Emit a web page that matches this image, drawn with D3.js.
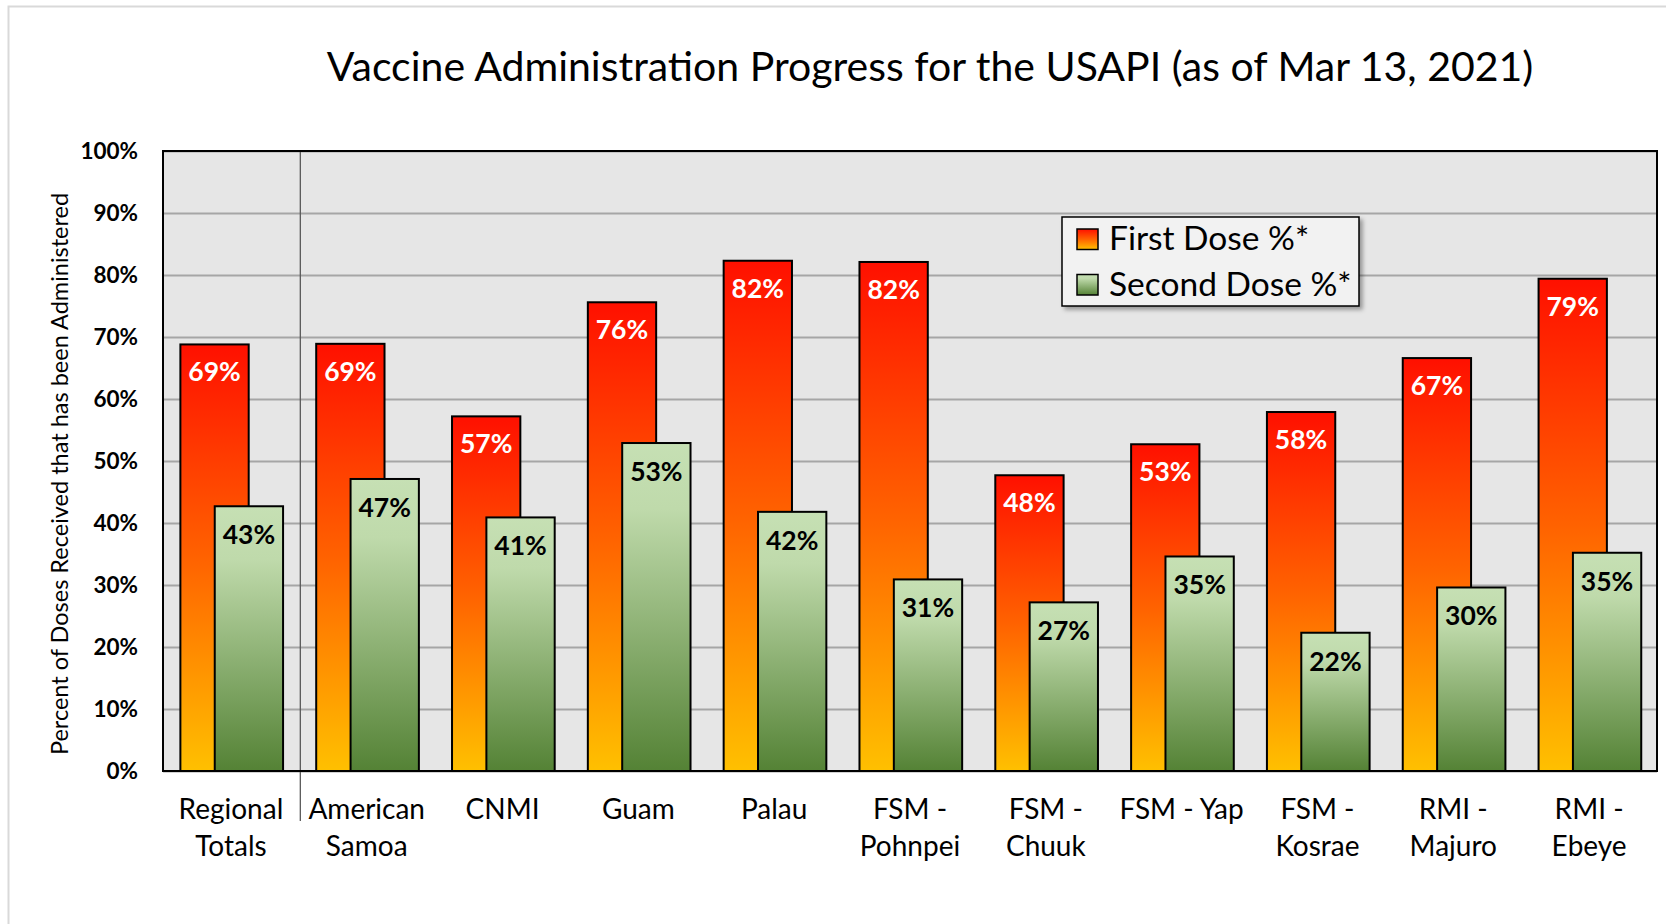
<!DOCTYPE html>
<html>
<head>
<meta charset="utf-8">
<script src="https://cdn.jsdelivr.net/npm/d3@7"></script>
<style>
  body { margin: 0; background: #fff; }
  svg { display: block; font-family: Lato, "Open Sans", sans-serif; }
</style>
</head>
<body>
<div id="chart-area"></div>
<script>
const categories = ["Regional Totals", "American Samoa", "CNMI", "Guam", "Palau", "FSM - Pohnpei",
    "FSM - Chuuk", "FSM - Yap", "FSM - Kosrae", "RMI - Majuro", "RMI - Ebeye"];
const categoryLines = [["Regional", "Totals"], ["American", "Samoa"], ["CNMI"], ["Guam"], ["Palau"],
    ["FSM -", "Pohnpei"], ["FSM -", "Chuuk"], ["FSM - Yap"], ["FSM -", "Kosrae"], ["RMI -", "Majuro"], ["RMI -", "Ebeye"]];
const firstDose = [0.688, 0.689, 0.572, 0.756, 0.823, 0.821, 0.477, 0.527, 0.579, 0.666, 0.794];
const secondDose = [0.427, 0.471, 0.409, 0.529, 0.418, 0.309, 0.272, 0.346, 0.223, 0.296, 0.352];
const yTicks = [0, 0.1, 0.2, 0.3, 0.4, 0.5, 0.6, 0.7, 0.8, 0.9, 1.0];
const seriesNames = ["First Dose %*", "Second Dose %*"];

const W = 1666, H = 924;
const margins = { top: 151, right: 9, bottom: 153, left: 163 },
    chartWidth = W - margins.left - margins.right,
    chartHeight = H - margins.top - margins.bottom;

const svgRoot = d3.select("#chart-area")
    .append("svg")
    .attr("width", W)
    .attr("height", H);

// outer frame
svgRoot.append("rect")
    .attr("x", 8.5).attr("y", 6.5)
    .attr("width", W + 10).attr("height", H + 10)
    .attr("fill", "none")
    .attr("stroke", "#d9d9d9")
    .attr("stroke-width", 2);

const defs = svgRoot.append("defs");
const gradFirst = defs.append("linearGradient").attr("id", "gFirst")
    .attr("x1", 0).attr("y1", 0).attr("x2", 0).attr("y2", 1);
gradFirst.append("stop").attr("offset", "0%").attr("stop-color", "#ff1000");
gradFirst.append("stop").attr("offset", "50%").attr("stop-color", "#ff6200");
gradFirst.append("stop").attr("offset", "100%").attr("stop-color", "#ffc000");

const gradSecond = defs.append("linearGradient").attr("id", "gSecond")
    .attr("x1", 0).attr("y1", 0).attr("x2", 0).attr("y2", 1);
gradSecond.append("stop").attr("offset", "0%").attr("stop-color", "#c6e0b4");
gradSecond.append("stop").attr("offset", "20%").attr("stop-color", "#bfdaab");
gradSecond.append("stop").attr("offset", "100%").attr("stop-color", "#548235");

const shadow = defs.append("filter").attr("id", "shadow")
    .attr("x", "-10%").attr("y", "-10%").attr("width", "130%").attr("height", "140%");
shadow.append("feDropShadow")
    .attr("dx", 3).attr("dy", 3).attr("stdDeviation", 2)
    .attr("flood-color", "#000").attr("flood-opacity", 0.35);

svgRoot.append("text")
    .attr("x", 930)
    .attr("y", 81)
    .attr("text-anchor", "middle")
    .attr("font-size", "41px")
    .attr("fill", "#000")
    .text("Vaccine Administration Progress for the USAPI (as of Mar 13, 2021)");

const chart = svgRoot.append("g")
    .attr("transform", `translate(${margins.left},${margins.top})`);

const scaleX = d3.scaleBand().domain(categories).range([0, chartWidth]).padding(0);
const scaleY = d3.scaleLinear().domain([0, 1]).range([chartHeight, 0]);
const bw = scaleX.bandwidth() * 0.503;
const offFirst = scaleX.bandwidth() * 0.128;
const offSecond = scaleX.bandwidth() * 0.381;

chart.append("rect")
    .attr("width", chartWidth)
    .attr("height", chartHeight)
    .attr("fill", "#e6e6e6");

// gridlines
chart.append("g")
    .attr("class", "grid")
    .call(d3.axisLeft(scaleY).tickValues(yTicks).tickSize(-chartWidth).tickFormat(""))
    .call(g => g.select(".domain").remove())
    .call(g => g.selectAll("line").attr("stroke", "#a6a6a6").attr("stroke-width", 2));

// separator after regional totals
chart.append("line")
    .attr("x1", scaleX(categories[1]) + 1.5).attr("x2", scaleX(categories[1]) + 1.5)
    .attr("y1", 0).attr("y2", chartHeight + 50)
    .attr("stroke", "#595959")
    .attr("stroke-width", 1.3);

const rows = categories.map((c, i) => ({ cat: c, first: firstDose[i], second: secondDose[i] }));
const fmt = d3.format(".0%");

chart.selectAll(".bar-first")
    .data(rows)
    .enter().append("rect")
    .attr("class", "bar-first")
    .attr("x", d => scaleX(d.cat) + offFirst)
    .attr("y", d => scaleY(d.first))
    .attr("width", bw)
    .attr("height", d => chartHeight - scaleY(d.first))
    .attr("fill", "url(#gFirst)")
    .attr("stroke", "#000")
    .attr("stroke-width", 2);

chart.selectAll(".bar-second")
    .data(rows)
    .enter().append("rect")
    .attr("class", "bar-second")
    .attr("x", d => scaleX(d.cat) + offSecond)
    .attr("y", d => scaleY(d.second))
    .attr("width", bw)
    .attr("height", d => chartHeight - scaleY(d.second))
    .attr("fill", "url(#gSecond)")
    .attr("stroke", "#000")
    .attr("stroke-width", 2);

chart.selectAll(".lbl-first")
    .data(rows)
    .enter().append("text")
    .attr("class", "lbl-first")
    .attr("x", d => scaleX(d.cat) + offFirst + bw / 2)
    .attr("y", d => scaleY(d.first) + 37)
    .attr("text-anchor", "middle")
    .attr("font-size", "26.5px")
    .attr("font-weight", "bold")
    .attr("fill", "#fff")
    .text(d => fmt(d.first));

chart.selectAll(".lbl-second")
    .data(rows)
    .enter().append("text")
    .attr("class", "lbl-second")
    .attr("x", d => scaleX(d.cat) + offSecond + bw / 2)
    .attr("y", d => scaleY(d.second) + 38)
    .attr("text-anchor", "middle")
    .attr("font-size", "26.5px")
    .attr("font-weight", "bold")
    .attr("fill", "#000")
    .text(d => fmt(d.second));

// plot border
chart.append("rect")
    .attr("width", chartWidth)
    .attr("height", chartHeight)
    .attr("fill", "none")
    .attr("stroke", "#000")
    .attr("stroke-width", 2);

// y axis labels
chart.append("g")
    .attr("class", "y-axis")
    .call(d3.axisLeft(scaleY).tickValues(yTicks).tickSize(0).tickPadding(25).tickFormat(d3.format(".0%")))
    .call(g => g.select(".domain").remove())
    .call(g => g.selectAll("text")
        .attr("font-family", "Lato, sans-serif")
        .attr("font-size", "22.5px")
        .attr("font-weight", "bold")
        .attr("fill", "#000"));

// x axis labels
const xLab = chart.append("g")
    .attr("class", "x-axis")
    .selectAll("text")
    .data(categories)
    .enter().append("text")
    .attr("text-anchor", "middle")
    .attr("font-size", "28px")
    .attr("fill", "#000")
    .attr("transform", d => `translate(${scaleX(d) + scaleX.bandwidth() / 2},${chartHeight + 48})`);

xLab.selectAll("tspan")
    .data((d, i) => categoryLines[i])
    .enter().append("tspan")
    .attr("x", 0)
    .attr("y", (d, i) => i * 37)
    .text(d => d);

chart.append("text")
    .attr("transform", "rotate(-90)")
    .attr("x", -(474 - margins.top))
    .attr("y", -95)
    .attr("text-anchor", "middle")
    .attr("font-size", "23.5px")
    .attr("fill", "#000")
    .text("Percent of Doses Received that has been Administered");

// legend
const legend = svgRoot.append("g")
    .attr("class", "legend")
    .attr("transform", "translate(1062,217)");

legend.append("rect")
    .attr("width", 297)
    .attr("height", 89)
    .attr("fill", "#f2f2f2")
    .attr("stroke", "#000")
    .attr("stroke-width", 1.5)
    .attr("filter", "url(#shadow)");

const legendRows = legend.selectAll(".legend-row")
    .data(seriesNames)
    .enter().append("g")
    .attr("class", "legend-row")
    .attr("transform", (d, i) => `translate(15, ${12 + i * 45.5})`);

legendRows.append("rect")
    .attr("width", 21)
    .attr("height", 20.5)
    .attr("fill", (d, i) => i === 0 ? "url(#gFirst)" : "url(#gSecond)")
    .attr("stroke", "#000")
    .attr("stroke-width", 1.5);

legendRows.append("text")
    .attr("x", 32)
    .attr("y", 21)
    .attr("font-size", "33.5px")
    .attr("fill", "#000")
    .text(d => d);
</script>
</body>
</html>
